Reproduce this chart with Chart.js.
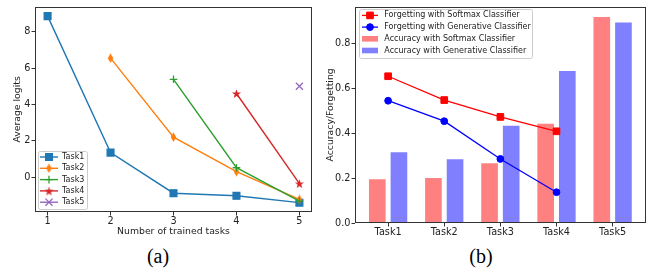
<!DOCTYPE html>
<html>
<head>
<meta charset="utf-8">
<script src="https://cdn.jsdelivr.net/npm/chart.js@4.4.0/dist/chart.umd.min.js"></script>
<style>
  html, body { margin: 0; padding: 0; background: #fff; }
  body { width: 652px; height: 269px; position: relative; overflow: hidden; }
  .panel { position: absolute; top: 0; height: 245px; }
  #leftPanel { left: 0; width: 320px; }
  #rightPanel { left: 322px; width: 330px; }
  .caption { position: absolute; top: 246px; font-family: "Liberation Serif", serif; font-size: 20px; line-height: 20px; color: #000; transform: translateX(-50%); }
</style>
</head>
<body>
<div id="leftPanel" class="panel"><canvas id="logitsChart"></canvas></div>
<div id="rightPanel" class="panel"><canvas id="forgetChart"></canvas></div>
<div class="caption" style="left:158px">(a)</div>
<div class="caption" style="left:481px">(b)</div>
<script>
// (a) average logits of each task after training N tasks
const trainedTasks = [1, 2, 3, 4, 5];
const task1Logits = [8.85, 1.35, -0.88, -1.02, -1.40];
const task2Logits = [null, 6.54, 2.20, 0.30, -1.22];
const task3Logits = [null, null, 5.38, 0.52, -1.32];
const task4Logits = [null, null, null, 4.60, -0.35];
const task5Logits = [null, null, null, null, 5.00];
const logitTicks = [0, 2, 4, 6, 8];

// (b) accuracy / forgetting per task
const taskNames = ['Task1', 'Task2', 'Task3', 'Task4', 'Task5'];
const forgetSoftmax = [0.653, 0.547, 0.472, 0.408];
const forgetGenerative = [0.544, 0.453, 0.285, 0.137];
const accSoftmax = [0.195, 0.200, 0.266, 0.442, 0.916];
const accGenerative = [0.315, 0.284, 0.433, 0.676, 0.892];
const accTicks = [0, 0.2, 0.4, 0.6, 0.8];

Chart.defaults.font.family = '"DejaVu Sans", sans-serif';
Chart.defaults.color = '#222';

const toPoints = (xs, ys) => ys.map((y, i) => ({ x: xs[i], y })).filter(p => p.y !== null);

function makeMarker(w, h, color, draw) {
  const c = document.createElement('canvas');
  c.width = w; c.height = h;
  const g = c.getContext('2d');
  g.fillStyle = color;
  draw(g, w, h);
  return c;
}
const thinDiamond = makeMarker(7, 10, '#ff7f0e', (g, w, h) => {
  g.beginPath();
  g.moveTo(w / 2, 0.3); g.lineTo(w - 0.7, h / 2); g.lineTo(w / 2, h - 0.3); g.lineTo(0.7, h / 2);
  g.closePath(); g.fill();
});
const filledStar = makeMarker(11, 11, '#d62728', (g, w, h) => {
  g.beginPath();
  for (let i = 0; i < 10; i++) {
    const r = i % 2 ? 1.9 : 4.8;
    const a = -Math.PI / 2 + i * Math.PI / 5;
    g.lineTo(w / 2 + r * Math.cos(a), h / 2 + 0.5 + r * Math.sin(a));
  }
  g.closePath(); g.fill();
});

// spines on all four sides
const frame = {
  id: 'frame',
  afterDatasetsDraw(chart) {
    const { ctx, chartArea: a } = chart;
    ctx.save();
    ctx.strokeStyle = '#333';
    ctx.lineWidth = 1;
    const l = Math.round(a.left) + 0.5, t = Math.round(a.top) + 0.5;
    const r = Math.round(a.right) - 0.5, b = Math.round(a.bottom) - 0.5;
    ctx.strokeRect(l, t, r - l, b - t);
    ctx.restore();
  }
};

// matplotlib-like legend box
const boxLegend = {
  id: 'boxLegend',
  afterDraw(chart, args, o) {
    const ctx = chart.ctx;
    ctx.save();
    ctx.beginPath();
    ctx.roundRect(o.x + 0.5, o.y + 0.5, o.w, o.h, 2);
    ctx.fillStyle = 'rgba(255,255,255,0.8)';
    ctx.fill();
    ctx.strokeStyle = '#cccccc';
    ctx.lineWidth = 1;
    ctx.stroke();
    chart.data.datasets.forEach((ds, i) => {
      const cy = o.firstRow + i * o.rowGap;
      const x0 = o.handleLeft, x1 = o.handleLeft + o.handleWidth;
      if ((ds.type || chart.config.type) === 'bar') {
        ctx.fillStyle = ds.backgroundColor;
        ctx.fillRect(x0, cy - 2.8, x1 - x0, 5.6);
      } else {
        ctx.strokeStyle = ds.borderColor;
        ctx.lineWidth = ds.borderWidth;
        ctx.beginPath(); ctx.moveTo(x0, cy); ctx.lineTo(x1, cy); ctx.stroke();
        ctx.fillStyle = ds.pointBackgroundColor;
        ctx.strokeStyle = ds.pointBorderColor;
        ctx.lineWidth = ds.pointBorderWidth;
        Chart.helpers.drawPoint(ctx, {
          pointStyle: ds.pointStyle, radius: ds.pointRadius, rotation: 0, borderWidth: ds.pointBorderWidth
        }, (x0 + x1) / 2, cy);
      }
      ctx.fillStyle = '#222';
      ctx.font = '8px "DejaVu Sans"';
      ctx.textAlign = 'left';
      ctx.textBaseline = 'middle';
      ctx.fillText(ds.label, o.textLeft, cy);
    });
    ctx.restore();
  }
};

const tickFont = { size: 9.7 };
const axisGrid = { display: true, offset: false, drawOnChartArea: false, drawTicks: true, tickLength: 3.5, color: '#333', tickColor: '#333' };

function lineSet(label, ys, color, style, radius, order) {
  return {
    label, data: toPoints(trainedTasks, ys), order,
    borderColor: color, backgroundColor: color, borderWidth: 1.4,
    pointStyle: style, pointRadius: radius, pointHoverRadius: radius,
    pointBackgroundColor: color, pointBorderColor: color, pointBorderWidth: 1.3
  };
}

const allLogits = [task1Logits, task2Logits, task3Logits, task4Logits, task5Logits].flat().filter(v => v !== null);
const lMin = Math.min(...allLogits), lMax = Math.max(...allLogits);
const lPad = (lMax - lMin) * 0.05;

new Chart(document.getElementById('logitsChart'), {
  type: 'line',
  data: {
    datasets: [
      lineSet('Task1', task1Logits, '#1f77b4', 'rect', 4.8, 4),
      lineSet('Task2', task2Logits, '#ff7f0e', thinDiamond, 5, 3),
      lineSet('Task3', task3Logits, '#2ca02c', 'cross', 3.8, 2),
      lineSet('Task4', task4Logits, '#d62728', filledStar, 5, 1),
      lineSet('Task5', task5Logits, '#9467bd', 'crossRot', 5, 0)
    ]
  },
  options: {
    responsive: true,
    maintainAspectRatio: false,
    animation: false,
    layout: { padding: { left: 0, right: 8, top: 6, bottom: 0 } },
    plugins: {
      legend: { display: false },
      tooltip: { enabled: false },
      boxLegend: { x: 38, y: 151, w: 49, h: 58, firstRow: 157, rowGap: 11.3, handleLeft: 40, handleWidth: 18, textLeft: 62 }
    },
    scales: {
      x: {
        type: 'linear', min: 0.8, max: 5.2, offset: false,
        afterBuildTicks: s => { s.ticks = trainedTasks.map(v => ({ value: v })); },
        afterFit: s => { s.height = 33; },
        ticks: { font: tickFont, padding: 0, callback: v => String(v) },
        grid: axisGrid, border: { display: false },
        title: { display: true, text: 'Number of trained tasks', font: { size: 9.3 }, padding: { top: 0, bottom: 7.4 } }
      },
      y: {
        type: 'linear', min: lMin - lPad, max: lMax + lPad,
        afterBuildTicks: s => { s.ticks = logitTicks.map(v => ({ value: v })); },
        afterFit: s => { s.width = 35; },
        ticks: { font: tickFont, padding: 1, callback: v => String(v) },
        grid: axisGrid, border: { display: false },
        title: { display: true, text: 'Average logits', font: { size: 9.3 }, padding: { top: 11.7, bottom: 0 } }
      }
    }
  },
  plugins: [frame, boxLegend]
});

const groupIdx = taskNames.map((_, i) => i);
const barOpts = { categoryPercentage: 0.771, barPercentage: 0.77, order: 1 };

new Chart(document.getElementById('forgetChart'), {
  type: 'bar',
  data: {
    datasets: [
      {
        type: 'line', label: 'Forgetting with Softmax Classifier', data: toPoints(groupIdx, forgetSoftmax), order: 0,
        borderColor: '#ff0000', backgroundColor: '#ff0000', borderWidth: 1.3,
        pointStyle: 'rect', pointRadius: 4.7, pointBackgroundColor: '#ff0000', pointBorderColor: '#ff0000', pointBorderWidth: 1
      },
      {
        type: 'line', label: 'Forgetting with Generative Classifier', data: toPoints(groupIdx, forgetGenerative), order: 0,
        borderColor: '#0000ff', backgroundColor: '#0000ff', borderWidth: 1.3,
        pointStyle: 'circle', pointRadius: 3.4, pointBackgroundColor: '#0000ff', pointBorderColor: '#0000ff', pointBorderWidth: 1
      },
      Object.assign({ label: 'Accuracy with Softmax Classifier', data: toPoints(groupIdx, accSoftmax), backgroundColor: '#ff8080' }, barOpts),
      Object.assign({ label: 'Accuracy with Generative Classifier', data: toPoints(groupIdx, accGenerative), backgroundColor: '#8080ff' }, barOpts)
    ]
  },
  options: {
    responsive: true,
    maintainAspectRatio: false,
    animation: false,
    layout: { padding: { left: 0, right: 4, top: 5, bottom: 0 } },
    plugins: {
      legend: { display: false },
      tooltip: { enabled: false },
      boxLegend: { x: 37, y: 9, w: 173, h: 49, firstRow: 15.4, rowGap: 11.7, handleLeft: 40, handleWidth: 16, textLeft: 62.3 }
    },
    scales: {
      x: {
        type: 'linear', min: -0.59, max: 4.6, offset: false,
        afterBuildTicks: s => { s.ticks = groupIdx.map(v => ({ value: v })); },
        afterFit: s => { s.height = 22; },
        ticks: { font: tickFont, padding: 0, callback: v => taskNames[v] },
        grid: axisGrid, border: { display: false }
      },
      y: {
        type: 'linear', min: 0, max: Math.max(...accSoftmax, ...accGenerative) * 1.05,
        afterBuildTicks: s => { s.ticks = accTicks.map(v => ({ value: v })); },
        afterFit: s => { s.width = 33; },
        ticks: { font: tickFont, padding: 1, callback: v => v.toFixed(1) },
        grid: axisGrid, border: { display: false },
        title: { display: true, text: 'Accuracy/Forgetting', font: { size: 9.3 }, padding: { top: 3.4, bottom: 0 } }
      }
    }
  },
  plugins: [frame, boxLegend]
});
</script>
</body>
</html>
